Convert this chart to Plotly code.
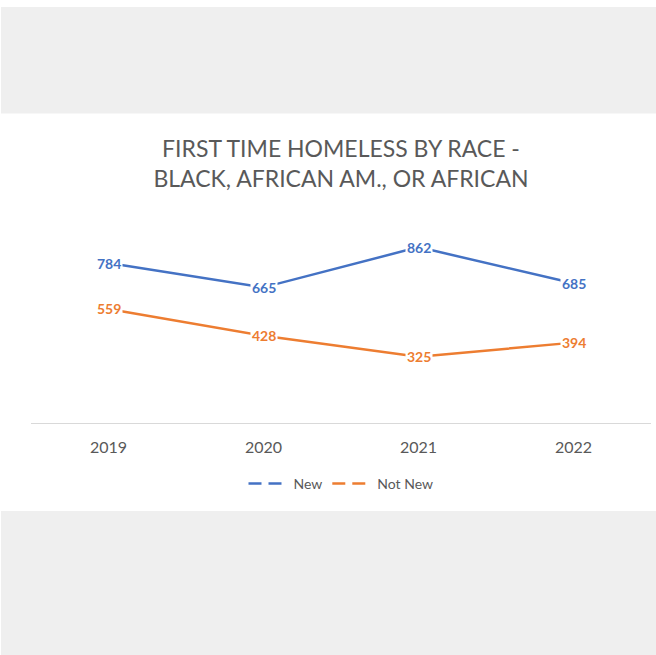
import plotly.graph_objects as go

years = ["2019", "2020", "2021", "2022"]
new_vals = [784, 665, 862, 685]
not_new_vals = [559, 428, 325, 394]
series_names = ["New", "Not New"]
colors = ["#4472C4", "#ED7D31"]
title_lines = ["FIRST TIME HOMELESS BY RACE -", "BLACK, AFRICAN AM., OR AFRICAN"]

FONT = "Lato, Carlito, Calibri, sans-serif"

fig = go.Figure()
for name, vals, col in zip(series_names, [new_vals, not_new_vals], colors):
    fig.add_trace(go.Scatter(x=years, y=vals, mode="lines", line=dict(color=col, width=2.5),
                             showlegend=False, hoverinfo="skip"))
    # legend-only dashed entry
    fig.add_trace(go.Scatter(x=[None], y=[None], mode="lines", name=name,
                             line=dict(color=col, width=2.5, dash="13px,7px")))
    for i, yv in enumerate(vals):
        fig.add_annotation(x=i, y=yv, text=f"<b>{yv}</b>", showarrow=False,
                           font=dict(family=FONT, size=14, color=col),
                           bgcolor="white", borderpad=1, xref="x", yref="y")

W, H = 656, 655
L, R, T, B = 31, 5, 219, 232
ph = H - T - B
pw = W - L - R

def py(pix):
    return (H - B - pix) / ph

def px(pix):
    return (pix - L) / pw

shapes = [
    dict(type="rect", xref="paper", yref="paper", x0=px(1), x1=px(657), y0=py(7), y1=py(113.5),
         fillcolor="#EFEFEF", line=dict(width=0), layer="below"),
    dict(type="rect", xref="paper", yref="paper", x0=px(1), x1=px(657), y0=py(511), y1=py(656),
         fillcolor="#EFEFEF", line=dict(width=0), layer="below"),
]

fig.update_layout(
    width=W, height=H,
    margin=dict(l=L, r=R, t=T, b=B),
    paper_bgcolor="white", plot_bgcolor="white",
    title=dict(text="<br>".join(title_lines), x=0.5, xanchor="center", xref="paper",
               y=1 - 157 / H, yref="container", yanchor="middle",
               font=dict(family=FONT, size=23, color="#595959")),
    shapes=shapes,
    showlegend=True,
    legend=dict(orientation="h", x=0.5, xanchor="center", y=py(484), yanchor="middle",
                font=dict(family=FONT, size=14, color="#595959"), itemwidth=40,
                bgcolor="rgba(0,0,0,0)"),
    xaxis=dict(type="category", range=[-0.5, 3.5], showline=True, linecolor="#D9D9D9", linewidth=1,
               showgrid=False, ticks="", tickfont=dict(family=FONT, size=16, color="#595959"),
               ticklabelstandoff=10, zeroline=False),
    yaxis=dict(range=[0, 1000], visible=False, showgrid=False, zeroline=False),
)

fig.write_html("out.html")
